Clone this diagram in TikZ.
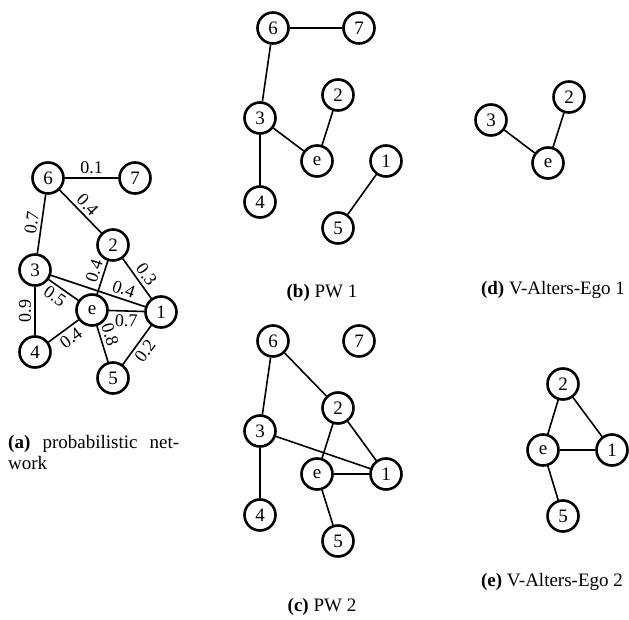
\documentclass[tikz,border=0pt]{standalone}
\usepackage{fontspec}
\setmainfont{Liberation Serif}
\begin{document}
\begin{tikzpicture}[x=1pt,y=-1pt,
  vert/.style={circle, draw, line width=2.6pt, minimum size=31pt, inner sep=0pt, font=\fontsize{19}{22}\selectfont},
  lnk/.style={line width=1.6pt},
  wt/.style={font=\fontsize{18}{20}\selectfont, sloped, inner sep=3pt},
  captext/.style={font=\fontsize{19}{22}\selectfont, inner sep=0pt}]
\useasboundingbox (0,0) rectangle (629,620);

% (a)
\node[vert] (a6) at (48,178) {6};
\node[vert] (a7) at (135,178) {7};
\node[vert] (a2) at (113,245) {2};
\node[vert] (a3) at (35,270) {3};
\node[vert] (ae) at (92,310) {e};
\node[vert] (a1) at (161,312) {1};
\node[vert] (a4) at (35,352) {4};
\node[vert] (a5) at (113,378) {5};
\draw[lnk] (a6) -- node[wt, above] {0.1} (a7);
\draw[lnk] (a6) -- node[wt, above, pos=0.5] {0.4} (a2);
\draw[lnk] (a3) -- node[wt, above] {0.7} (a6);
\draw[lnk] (a2) -- node[wt, above, pos=0.55] {0.3} (a1);
\draw[lnk] (ae) -- node[wt, above, pos=0.6] {0.4} (a2);
\draw[lnk] (a3) -- node[wt, above, pos=0.74] {0.4} (a1);
\draw[lnk] (a3) -- node[wt, below, pos=0.4] {0.5} (ae);
\draw[lnk] (a4) -- node[wt, above] {0.9} (a3);
\draw[lnk] (a4) -- node[wt, below, pos=0.55] {0.4} (ae);
\draw[lnk] (ae) -- node[wt, below, pos=0.5] {0.7} (a1);
\draw[lnk] (ae) -- node[wt, above, pos=0.33] {0.8} (a5);
\draw[lnk] (a5) -- node[wt, below] {0.2} (a1);
\node[captext, anchor=base west] (capa1) at (8,448) {\makebox[171pt][s]{\textbf{(a)} probabilistic net-}};
\node[captext, anchor=base west] (capa2) at (8,469) {work};

% (b)
\node[vert] (b6) at (273,28) {6};
\node[vert] (b7) at (359,28) {7};
\node[vert] (b2) at (338,95) {2};
\node[vert] (b3) at (260,118) {3};
\node[vert] (be) at (317,161) {e};
\node[vert] (b1) at (386,161) {1};
\node[vert] (b4) at (260,202) {4};
\node[vert] (b5) at (338,228) {5};
\draw[lnk] (b6) -- (b7);
\draw[lnk] (b6) -- (b3);
\draw[lnk] (b3) -- (be);
\draw[lnk] (b3) -- (b4);
\draw[lnk] (be) -- (b2);
\draw[lnk] (b1) -- (b5);
\node[captext] (capb) at (322,293) {\textbf{(b)} PW 1};

% (c)
\node[vert] (c6) at (273,341) {6};
\node[vert] (c7) at (359,341) {7};
\node[vert] (c2) at (338,408) {2};
\node[vert] (c3) at (260,431) {3};
\node[vert] (ce) at (317,474) {e};
\node[vert] (c1) at (386,474) {1};
\node[vert] (c4) at (260,515) {4};
\node[vert] (c5) at (338,541) {5};
\draw[lnk] (c6) -- (c3);
\draw[lnk] (c6) -- (c2);
\draw[lnk] (c3) -- (c1);
\draw[lnk] (c3) -- (c4);
\draw[lnk] (c2) -- (ce);
\draw[lnk] (c2) -- (c1);
\draw[lnk] (ce) -- (c1);
\draw[lnk] (ce) -- (c5);
\node[captext] (capc) at (322,607) {\textbf{(c)} PW 2};

% (d)
\node[vert] (d3) at (491,120) {3};
\node[vert] (d2) at (569,97) {2};
\node[vert] (de) at (548,163) {e};
\draw[lnk] (d3) -- (de);
\draw[lnk] (de) -- (d2);
\node[captext] (capd) at (553,290) {\textbf{(d)} V-Alters-Ego 1};

% (e)
\node[vert] (e2) at (563,384) {2};
\node[vert] (ee) at (543,450) {e};
\node[vert] (e1) at (612,450) {1};
\node[vert] (e5) at (563,516) {5};
\draw[lnk] (e2) -- (ee);
\draw[lnk] (e2) -- (e1);
\draw[lnk] (ee) -- (e1);
\draw[lnk] (ee) -- (e5);
\node[captext] (cape) at (552,582) {\textbf{(e)} V-Alters-Ego 2};
\end{tikzpicture}
\end{document}
